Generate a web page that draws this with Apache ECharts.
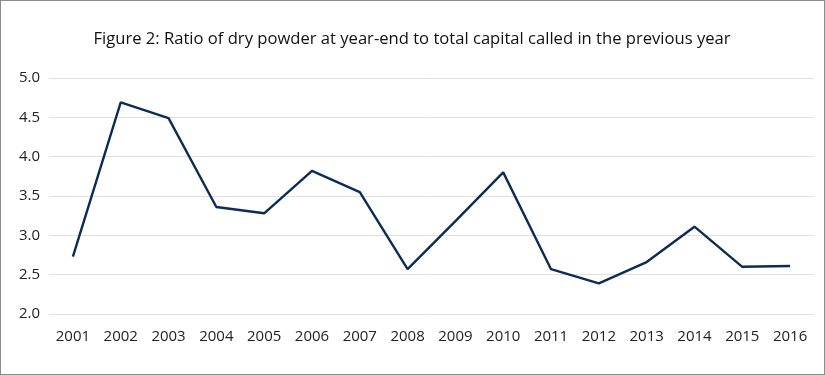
<!DOCTYPE html>
<html>
<head>
<meta charset="utf-8">
<script src="https://cdn.jsdelivr.net/npm/echarts@6/dist/echarts.min.js"></script>
<style>
  html, body { margin: 0; padding: 0; background: #fff; }
  #main { width: 825px; height: 375px; box-sizing: border-box; border: 1px solid #8c8c8c; }
</style>
</head>
<body>
<div id="main"></div>
<script>
// data
var years = ['2001','2002','2003','2004','2005','2006','2007','2008','2009','2010','2011','2012','2013','2014','2015','2016'];
var ratio = [2.73, 4.69, 4.49, 3.36, 3.28, 3.82, 3.55, 2.57, 3.18, 3.80, 2.57, 2.39, 2.66, 3.11, 2.60, 2.61];
var titleText = 'Figure 2: Ratio of dry powder at year-end to total capital called in the previous year';

var myChart = echarts.init(document.getElementById('main'));

var option = {
    animation: false,
    title: {
        text: titleText,
        left: 406,
        top: 25,
        textAlign: 'center',
        textStyle: {
            fontFamily: 'Open Sans',
            fontSize: 16.6,
            fontWeight: 500,
            color: '#111'
        }
    },
    grid: {
        left: 48,
        right: 10,
        top: 77,
        bottom: 60
    },
    xAxis: {
        type: 'category',
        data: years,
        boundaryGap: true,
        axisLine: { show: false },
        axisTick: { show: false },
        axisLabel: {
            fontFamily: 'Open Sans',
            fontSize: 15,
            color: '#222',
            margin: 15
        }
    },
    yAxis: {
        type: 'value',
        min: 2.0,
        max: 5.0,
        interval: 0.5,
        axisLine: { show: false },
        axisTick: { show: false },
        axisLabel: {
            fontFamily: 'Open Sans',
            fontSize: 15,
            color: '#222',
            margin: 9,
            formatter: function (v) { return v.toFixed(1); }
        },
        splitLine: { lineStyle: { color: '#e0e0e0', width: 1 } }
    },
    series: [{
        type: 'line',
        data: ratio,
        symbol: 'none',
        lineStyle: { color: '#0c2c55', width: 2.4 }
    }]
};

myChart.setOption(option);
</script>
</body>
</html>
